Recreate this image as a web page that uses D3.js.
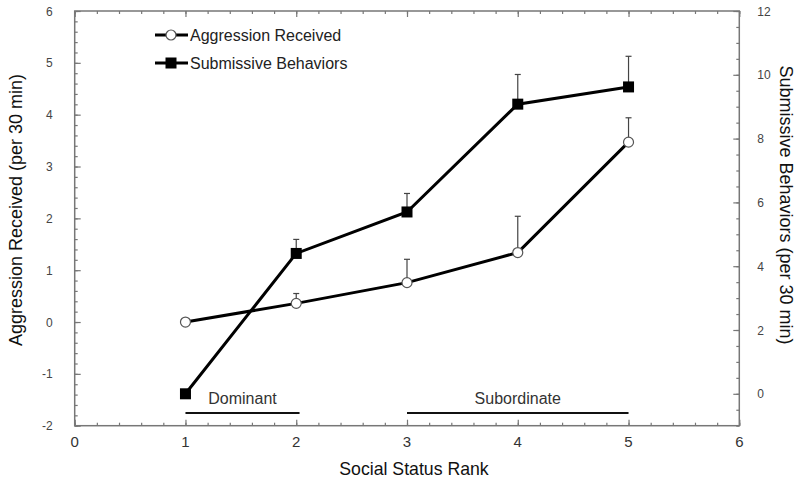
<!DOCTYPE html>
<html><head><meta charset="utf-8">
<script src="https://cdn.jsdelivr.net/npm/d3@7"></script>
<style>body{margin:0;background:#fff}svg{display:block}text{font-family:"Liberation Sans",Arial,sans-serif}</style>
</head><body><svg id="c" width="800" height="493"></svg>
<script>
const ranks = [1, 2, 3, 4, 5];
const aggression = [0, 0.36, 0.76, 1.34, 3.47];
const aggressionErr = [0, 0.19, 0.45, 0.70, 0.47];
const submissive = [0, 4.40, 5.70, 9.08, 9.62];
const submissiveErr = [0, 0.44, 0.58, 0.93, 0.96];
const xTicks = [0, 1, 2, 3, 4, 5, 6];
const yLeftTicks = [-2, -1, 0, 1, 2, 3, 4, 5, 6];
const yRightTicks = [0, 2, 4, 6, 8, 10, 12];
const groups = [{label: "Dominant", from: 1, to: 2.03}, {label: "Subordinate", from: 3, to: 5}];

const svg = d3.select("#c");
const L = 74.7, R = 739.3, T = 11, B = 425.7;
const x = d3.scaleLinear().domain([0, 6]).range([L, R]);
const yl = d3.scaleLinear().domain([-2, 6]).range([B, T]);
const yr = d3.scaleLinear().domain([-1, 12]).range([B, T]);
const axisCol = "#777";

// frame
svg.append("rect").attr("x", L).attr("y", T).attr("width", R - L).attr("height", B - T)
  .attr("fill", "none").attr("stroke", axisCol).attr("stroke-width", 1.5);

function ticksAxis(g) { g.select(".domain").remove(); g.selectAll("line").attr("stroke", axisCol).attr("stroke-width", 1.2); g.selectAll("text").remove(); }

const xMinor = d3.range(0, 6.001, 0.2);
svg.append("g").attr("transform", `translate(0,${B})`).call(d3.axisTop(x).tickValues(xMinor).tickSize(3)).call(ticksAxis);
svg.append("g").attr("transform", `translate(0,${B})`).call(d3.axisTop(x).tickValues(xTicks).tickSize(6)).call(ticksAxis);
svg.append("g").attr("transform", `translate(0,${T})`).call(d3.axisBottom(x).tickValues(xMinor).tickSize(3)).call(ticksAxis);
svg.append("g").attr("transform", `translate(0,${T})`).call(d3.axisBottom(x).tickValues(xTicks).tickSize(6)).call(ticksAxis);
svg.append("g").attr("transform", `translate(${L},0)`).call(d3.axisRight(yl).tickValues(d3.range(-2, 6.001, 0.2)).tickSize(3)).call(ticksAxis);
svg.append("g").attr("transform", `translate(${L},0)`).call(d3.axisRight(yl).tickValues(yLeftTicks).tickSize(6)).call(ticksAxis);
svg.append("g").attr("transform", `translate(${R},0)`).call(d3.axisLeft(yr).tickValues(d3.range(-1, 12.001, 0.5)).tickSize(3)).call(ticksAxis);
svg.append("g").attr("transform", `translate(${R},0)`).call(d3.axisLeft(yr).tickValues(yRightTicks).tickSize(6)).call(ticksAxis);

// tick labels
svg.append("g").selectAll("text").data(xTicks).join("text")
  .attr("x", d => x(d)).attr("y", B + 21).attr("text-anchor", "middle")
  .attr("font-size", 15).attr("fill", "#333").text(d => d);
svg.append("g").selectAll("text").data(yLeftTicks).join("text")
  .attr("x", L - 22).attr("y", d => yl(d) + 4.5).attr("text-anchor", "end")
  .attr("font-size", 12).attr("fill", "#444").text(d => d);
svg.append("g").selectAll("text").data(yRightTicks).join("text")
  .attr("x", R + 18).attr("y", d => yr(d) + 4.5).attr("text-anchor", "start")
  .attr("font-size", 12).attr("fill", "#444").text(d => d);

// axis titles
svg.append("text").attr("x", 414).attr("y", 475).attr("text-anchor", "middle")
  .attr("font-size", 17.7).attr("fill", "#111").text("Social Status Rank");
svg.append("text").attr("transform", `translate(22,210) rotate(-90)`).attr("text-anchor", "middle")
  .attr("font-size", 18).attr("fill", "#111").text("Aggression Received (per 30 min)");
svg.append("text").attr("transform", `translate(780,205) rotate(90)`).attr("text-anchor", "middle")
  .attr("font-size", 18).attr("fill", "#111").text("Submissive Behaviors (per 30 min)");

// group brackets
const gy = 413;
groups.forEach(g => {
  svg.append("line").attr("x1", x(g.from)).attr("x2", x(g.to)).attr("y1", gy).attr("y2", gy)
    .attr("stroke", "#111").attr("stroke-width", 2);
  svg.append("text").attr("x", (x(g.from) + x(g.to)) / 2).attr("y", gy - 9).attr("text-anchor", "middle")
    .attr("font-size", 16).attr("fill", "#333").text(g.label);
});

// error bars
function errBars(vals, errs, y) {
  ranks.forEach((r, i) => {
    if (errs[i] <= 0) return;
    const cx = x(r), y0 = y(vals[i]), y1 = y(vals[i] + errs[i]);
    svg.append("line").attr("x1", cx).attr("x2", cx).attr("y1", y0).attr("y2", y1).attr("stroke", "#444").attr("stroke-width", 1.2);
    svg.append("line").attr("x1", cx - 3).attr("x2", cx + 3).attr("y1", y1).attr("y2", y1).attr("stroke", "#444").attr("stroke-width", 1.2);
  });
}
errBars(aggression, aggressionErr, yl);
errBars(submissive, submissiveErr, yr);

const line = (y, vals) => d3.line().x((d, i) => x(d)).y((d, i) => y(vals[i]))(ranks);
svg.append("path").attr("d", line(yl, aggression)).attr("fill", "none").attr("stroke", "#000").attr("stroke-width", 3);
svg.append("path").attr("d", line(yr, submissive)).attr("fill", "none").attr("stroke", "#000").attr("stroke-width", 3);

svg.append("g").selectAll("circle").data(ranks).join("circle")
  .attr("cx", d => x(d)).attr("cy", (d, i) => yl(aggression[i])).attr("r", 5)
  .attr("fill", "#fff").attr("stroke", "#555").attr("stroke-width", 1.2);
svg.append("g").selectAll("rect").data(ranks).join("rect")
  .attr("x", d => x(d) - 5.5).attr("y", (d, i) => yr(submissive[i]) - 5.5).attr("width", 11).attr("height", 11)
  .attr("fill", "#000");

// legend
const leg = [{label: "Aggression Received", type: "circle", y: 35}, {label: "Submissive Behaviors", type: "square", y: 63}];
leg.forEach(l => {
  svg.append("line").attr("x1", 155).attr("x2", 188).attr("y1", l.y).attr("y2", l.y).attr("stroke", "#000").attr("stroke-width", 3);
  if (l.type === "circle") svg.append("circle").attr("cx", 171).attr("cy", l.y).attr("r", 5).attr("fill", "#fff").attr("stroke", "#555").attr("stroke-width", 1.2);
  else svg.append("rect").attr("x", 165.5).attr("y", l.y - 5.5).attr("width", 11).attr("height", 11).attr("fill", "#000");
  svg.append("text").attr("x", 190).attr("y", l.y + 6).attr("font-size", 16).attr("fill", "#222").text(l.label);
});
</script></body></html>
